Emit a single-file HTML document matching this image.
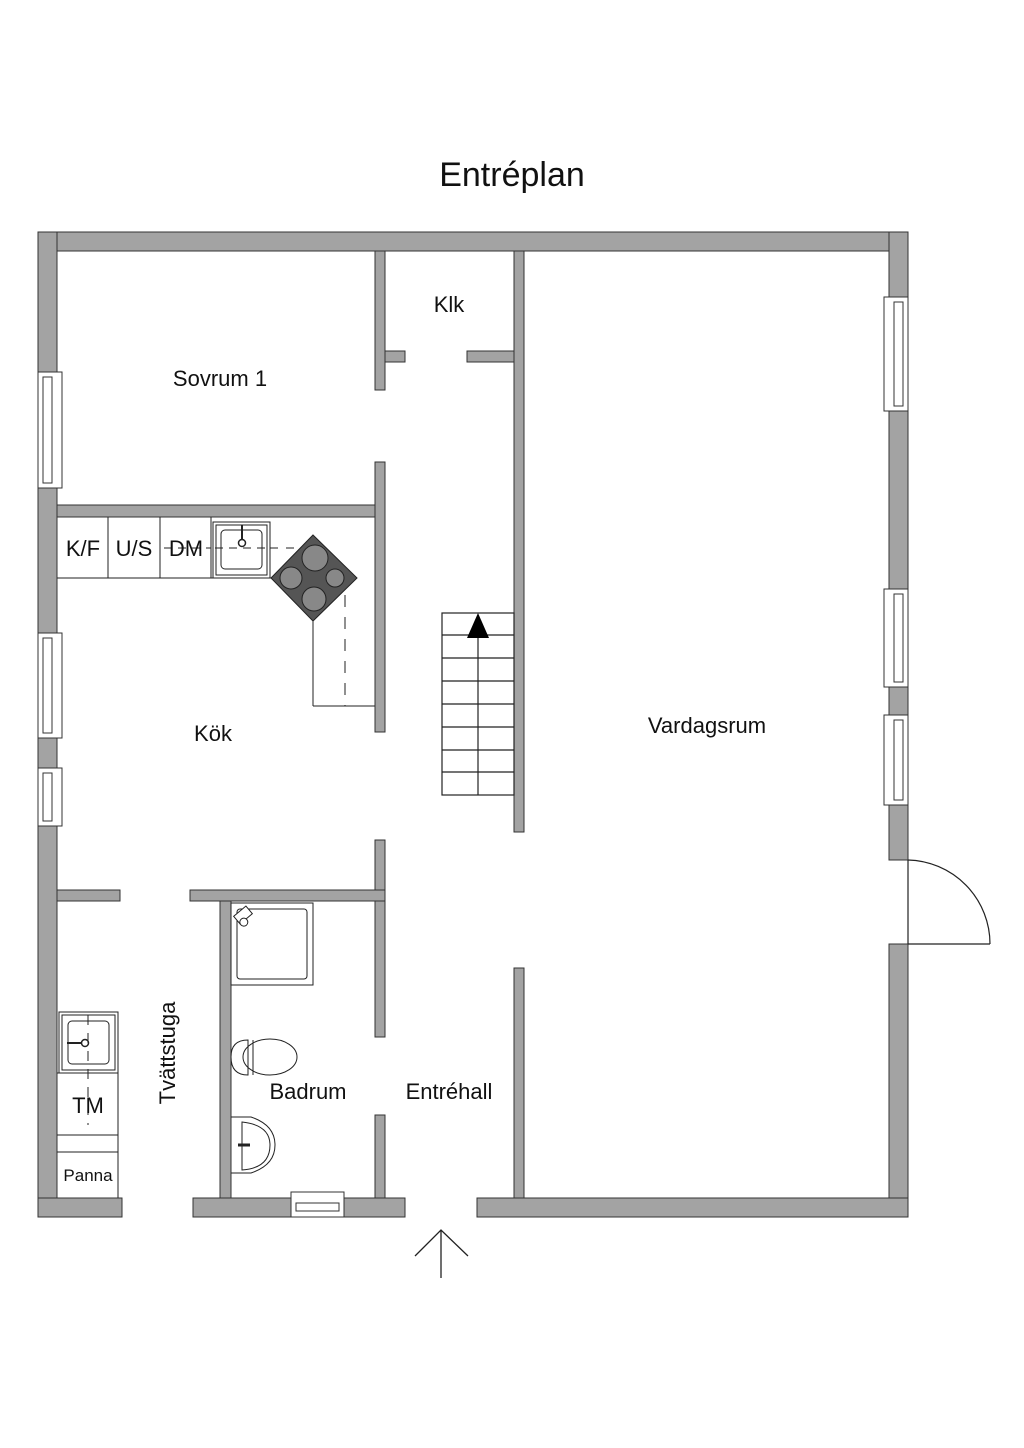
<!DOCTYPE html>
<html><head><meta charset="utf-8"><style>
html,body{margin:0;padding:0;background:#fff}
svg{display:block}
text{font-family:"Liberation Sans",sans-serif;fill:#111}
</style></head><body>
<svg width="1024" height="1448" viewBox="0 0 1024 1448" xmlns="http://www.w3.org/2000/svg">
<text x="512" y="186" font-size="34" text-anchor="middle">Entréplan</text>
<g fill="#a3a3a3" stroke="#333" stroke-width="1">
<!-- outer -->
<rect x="38" y="232" width="870" height="19"/>
<rect x="38" y="232" width="19" height="985"/>
<rect x="889" y="232" width="19" height="628"/>
<rect x="889" y="944" width="19" height="273"/>
<rect x="38" y="1198" width="84" height="19"/>
<rect x="193" y="1198" width="98" height="19"/>
<rect x="344" y="1198" width="61" height="19"/>
<rect x="477" y="1198" width="431" height="19"/>
<!-- interior -->
<rect x="57" y="505" width="328" height="12"/>
<rect x="375" y="251" width="10" height="139"/>
<rect x="375" y="462" width="10" height="270"/>
<rect x="385" y="351" width="20" height="11"/>
<rect x="467" y="351" width="47" height="11"/>
<rect x="514" y="251" width="10" height="581"/>
<rect x="375" y="840" width="10" height="197"/>
<rect x="375" y="1115" width="10" height="83"/>
<rect x="57" y="890" width="63" height="11"/>
<rect x="190" y="890" width="195" height="11"/>
<rect x="220" y="901" width="11" height="297"/>
<rect x="514" y="968" width="10" height="230"/>
</g>
<g fill="#fff" stroke="#333" stroke-width="1">
<!-- windows left -->
<rect x="38" y="372" width="24" height="116"/><rect x="43" y="377" width="9" height="106"/>
<rect x="38" y="633" width="24" height="105"/><rect x="43" y="638" width="9" height="95"/>
<rect x="38" y="768" width="24" height="58"/><rect x="43" y="773" width="9" height="48"/>
<!-- windows right -->
<rect x="884" y="297" width="24" height="114"/><rect x="894" y="302" width="9" height="104"/>
<rect x="884" y="589" width="24" height="98"/><rect x="894" y="594" width="9" height="88"/>
<rect x="884" y="715" width="24" height="90"/><rect x="894" y="720" width="9" height="80"/>
<!-- bath window -->
<rect x="291" y="1192" width="53" height="25"/><rect x="296" y="1203" width="43" height="8"/>
</g>
<!-- door -->
<g fill="none" stroke="#222" stroke-width="1.2">
<line x1="908" y1="860" x2="908" y2="944"/>
<line x1="908" y1="944" x2="990" y2="944"/>
<path d="M908 860 A84 84 0 0 1 990 944"/>
</g>
<!-- stairs -->
<g fill="none" stroke="#222" stroke-width="1.2">
<rect x="442" y="613" width="72" height="182"/>
<line x1="442" y1="635" x2="514" y2="635"/><line x1="442" y1="658" x2="514" y2="658"/>
<line x1="442" y1="681" x2="514" y2="681"/><line x1="442" y1="704" x2="514" y2="704"/>
<line x1="442" y1="727" x2="514" y2="727"/><line x1="442" y1="750" x2="514" y2="750"/>
<line x1="442" y1="772" x2="514" y2="772"/>
<line x1="478" y1="630" x2="478" y2="795"/>
</g>
<polygon points="478,613 467,638 489,638" fill="#000"/>
<!-- kitchen -->
<g fill="none" stroke="#222" stroke-width="1">
<line x1="57" y1="578" x2="271" y2="578"/>
<line x1="108" y1="517" x2="108" y2="578"/>
<line x1="160" y1="517" x2="160" y2="578"/>
<line x1="211" y1="517" x2="211" y2="578"/>
<rect x="213" y="522" width="57" height="56"/><rect x="216" y="525" width="51" height="50"/>
<rect x="221" y="530" width="41" height="39" rx="4"/>
<line x1="313" y1="621" x2="313" y2="706"/>
<line x1="313" y1="706" x2="375" y2="706"/>
<path d="M270 548 H300" stroke-dasharray="8,8"/>
<path d="M164 548 H211 M215 548 H270" stroke-dasharray="8,6"/>
<path d="M345 595 V706" stroke-dasharray="12,10"/>
<circle cx="242" cy="543" r="3.5" stroke-width="1.5"/>
<line x1="242" y1="525" x2="242" y2="540" stroke-width="2"/>
</g>
<polygon points="313,535 357,578 313,621 271,578" fill="#555" stroke="#222"/>
<g fill="#888" stroke="#222" stroke-width="1">
<circle cx="315" cy="558" r="13"/><circle cx="291" cy="578" r="11"/>
<circle cx="335" cy="578" r="9"/><circle cx="314" cy="599" r="12"/>
</g>
<!-- tvättstuga -->
<g fill="none" stroke="#222" stroke-width="1">
<rect x="59" y="1012" width="59" height="61"/><rect x="62" y="1015" width="53" height="55"/>
<rect x="68" y="1021" width="41" height="43" rx="4"/>
<circle cx="85" cy="1043" r="3.5" stroke-width="1.5"/>
<line x1="67" y1="1043" x2="82" y2="1043" stroke-width="2"/>
<line x1="57" y1="1073" x2="118" y2="1073"/>
<line x1="118" y1="1073" x2="118" y2="1198"/>
<line x1="57" y1="1135" x2="118" y2="1135"/>
<line x1="57" y1="1152" x2="118" y2="1152"/>
<path d="M88 1015 V1125" stroke-dasharray="10,8"/>
</g>
<!-- bathroom -->
<g fill="none" stroke="#222" stroke-width="1">
<rect x="231" y="903" width="82" height="82"/>
<rect x="237" y="909" width="70" height="70" rx="3"/>
<ellipse cx="270" cy="1057" rx="27" ry="18"/>
<path d="M248 1040 Q231 1040 231 1057 Q231 1075 248 1075 Z"/>
<line x1="253" y1="1040" x2="253" y2="1075"/>
<path d="M231 1117 H251 Q275 1125 275 1145 Q275 1165 251 1173 H231"/>
<path d="M242 1122 Q270 1125 270 1145 Q270 1168 242 1170 Z"/>
<line x1="238" y1="1145" x2="250" y2="1145" stroke-width="3"/>
</g>
<g transform="translate(243,915) rotate(-40)" fill="#fff" stroke="#222"><rect x="-8" y="-5" width="16" height="10"/><circle cx="-4" cy="6" r="4"/></g>
<!-- entrance arrow -->
<g fill="none" stroke="#222" stroke-width="1.3">
<line x1="441" y1="1230" x2="441" y2="1278"/>
<polyline points="415,1256 441,1230 468,1256"/>
</g>
<!-- labels -->
<g font-size="22">
<text x="220" y="386" text-anchor="middle">Sovrum 1</text>
<text x="449" y="312" text-anchor="middle">Klk</text>
<text x="213" y="741" text-anchor="middle">Kök</text>
<text x="707" y="733" text-anchor="middle">Vardagsrum</text>
<text x="308" y="1099" text-anchor="middle">Badrum</text>
<text x="449" y="1099" text-anchor="middle">Entréhall</text>
<text x="88" y="1113" text-anchor="middle">TM</text>
<text x="83" y="556" text-anchor="middle">K/F</text>
<text x="134" y="556" text-anchor="middle">U/S</text>
<text x="186" y="556" text-anchor="middle">DM</text>
<text transform="translate(175,1053) rotate(-90)" text-anchor="middle">Tvättstuga</text>
</g>
<text x="88" y="1181" font-size="17" text-anchor="middle">Panna</text>
</svg>
</body></html>
